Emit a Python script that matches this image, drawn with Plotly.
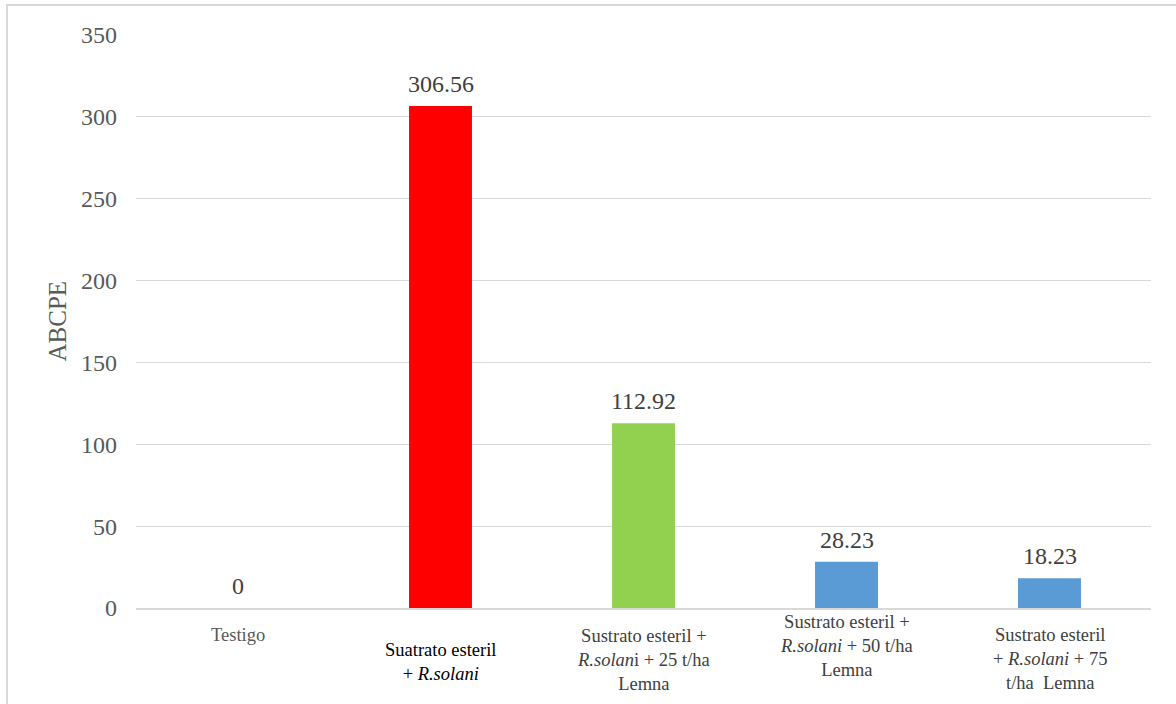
import plotly.graph_objects as go

categories = ["Testigo", "Suatrato esteril + R.solani", "Sustrato esteril + R.solani + 25 t/ha Lemna",
              "Sustrato esteril + R.solani + 50 t/ha Lemna", "Sustrato esteril + R.solani + 75 t/ha Lemna"]
values = [0, 306.56, 112.92, 28.23, 18.23]
value_labels = ["0", "306.56", "112.92", "28.23", "18.23"]
bar_colors = ["#FF0000", "#FF0000", "#92D050", "#5B9BD5", "#5B9BD5"]
cat_label_html = [
    "Testigo",
    "Suatrato esteril<br>+ <i>R.solani</i>",
    "Sustrato esteril +<br><i>R.solan</i>i + 25 t/ha<br>Lemna",
    "Sustrato esteril +<br><i>R.solani</i> + 50 t/ha<br>Lemna",
    "Sustrato esteril<br>+ <i>R.solani</i> + 75<br>t/ha  Lemna",
]
cat_label_color = ["#595959", "#000000", "#404040", "#404040", "#404040"]
cat_label_top = [623, 638, 624, 610, 623]  # pixel y of top of label block
y_ticks = [0, 50, 100, 150, 200, 250, 300, 350]

W, H = 1176, 704
L, R, T, B = 136, 25, 35, 96
pw, ph = W - L - R, H - T - B

font = "Liberation Serif"

fig = go.Figure()
fig.add_trace(go.Bar(
    x=categories, y=values, marker_color=bar_colors, marker_line_width=0,
    width=0.31, showlegend=False, hoverinfo="x+y",
))

annotations = []
for i, (v, t) in enumerate(zip(values, value_labels)):
    annotations.append(dict(x=i, xref="x", y=v, yref="y", text=t,
                            showarrow=False, yanchor="bottom",
                            yshift=7, font=dict(family=font, size=24, color="#404040")))
for i, (t, col, top) in enumerate(zip(cat_label_html, cat_label_color, cat_label_top)):
    annotations.append(dict(x=i, xref="x", y=1 - (top - T) / ph, yref="paper", text=t,
                            showarrow=False, yanchor="top", xanchor="center", align="center",
                            font=dict(family=font, size=18.5, color=col)))
annotations.append(dict(x=(57 - L) / pw, xref="paper", y=0.5, yref="paper", text="ABCPE",
                        textangle=-90, showarrow=False, xanchor="center", yanchor="middle",
                        font=dict(family=font, size=25, color="#595959")))

shapes = [dict(type="rect", xref="paper", yref="paper",
               x0=(7 - L) / pw, x1=(1185 - L) / pw, y0=-0.3, y1=1 + 30 / ph,
               line=dict(color="#D9D9D9", width=2), layer="below")]

fig.update_layout(
    width=W, height=H, margin=dict(l=L, r=R, t=T, b=B, autoexpand=False),
    paper_bgcolor="white", plot_bgcolor="white",
    font=dict(family=font, color="#595959"),
    bargap=0.69, annotations=annotations, shapes=shapes,
    xaxis=dict(showticklabels=False, showgrid=False, showline=True, linecolor="#D9D9D9",
               linewidth=1.5, zeroline=False, fixedrange=True),
    yaxis=dict(range=[0, 350], tickvals=y_ticks, showgrid=True, gridcolor="#D9D9D9",
               gridwidth=1, zeroline=False, showline=False,
               tickfont=dict(family=font, size=24, color="#595959"),
               ticklabelstandoff=18, fixedrange=True),
)

fig.write_html("out.html")
